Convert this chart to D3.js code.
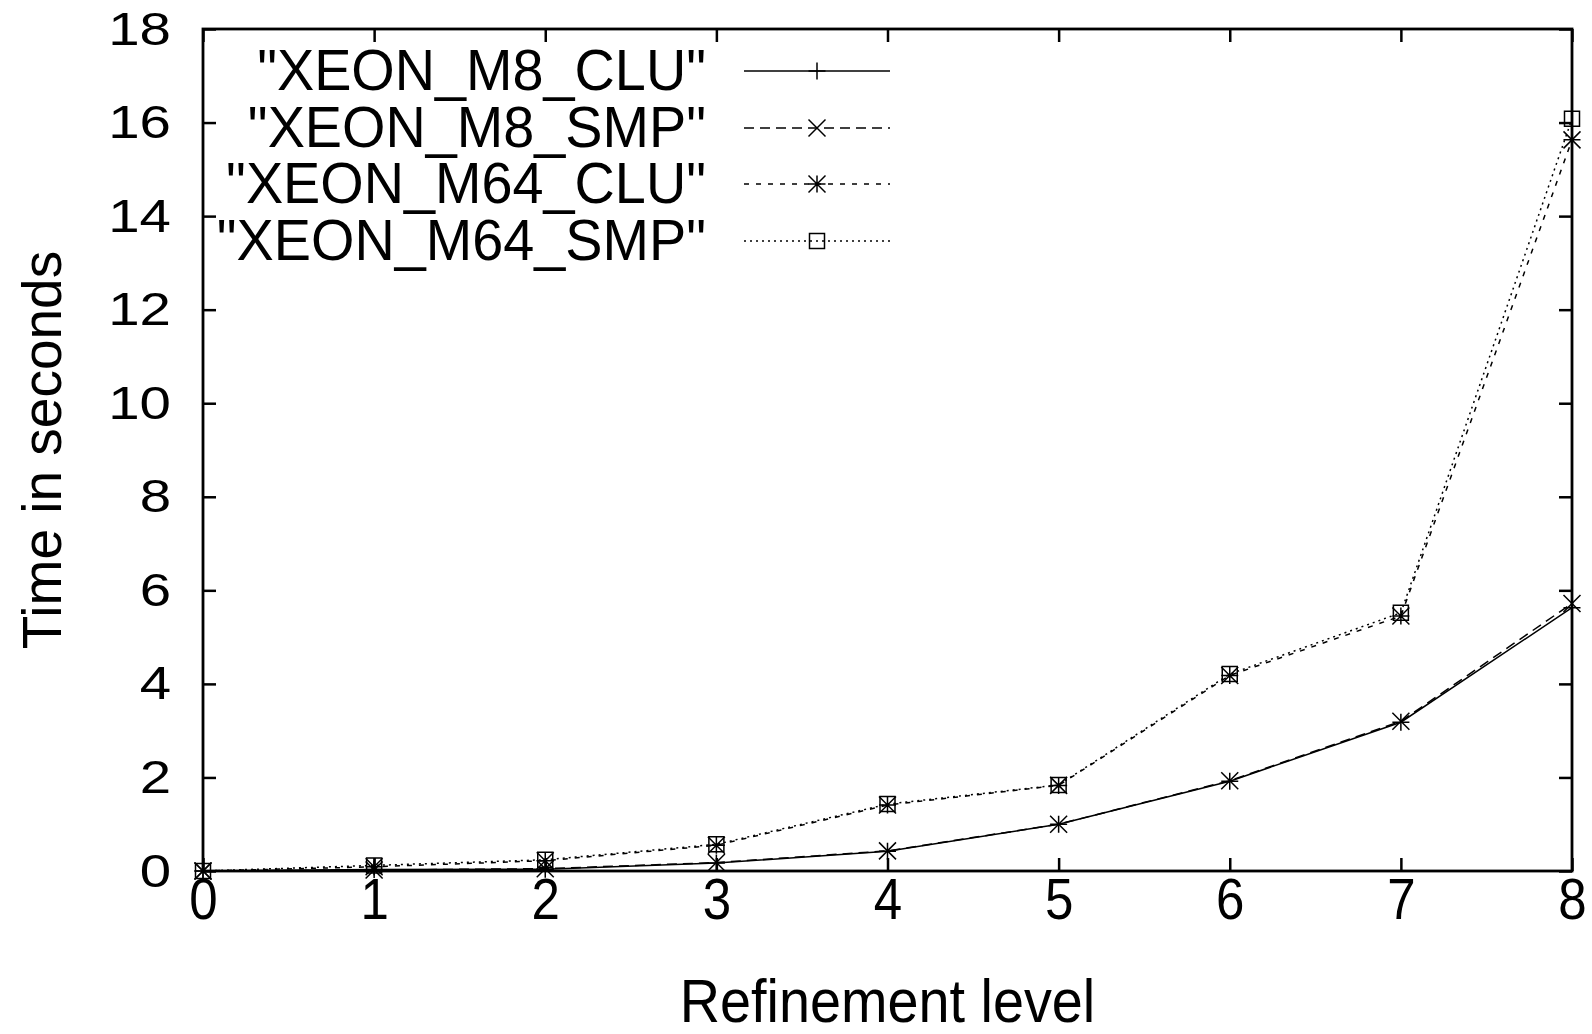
<!DOCTYPE html>
<html>
<head>
<meta charset="utf-8">
<script src="https://cdn.jsdelivr.net/npm/d3@7"></script>
<style>
  body { margin: 0; background: #fff; }
  svg { display: block; }
  text { font-family: "Liberation Sans", Arial, sans-serif; fill: #000; }
</style>
</head>
<body>
<script>
// refinement levels on the x axis
var levels = [0, 1, 2, 3, 4, 5, 6, 7, 8];

// time in seconds, one array per run
var xeonM8Clu  = [0, 0.03, 0.04, 0.17, 0.42, 1.00, 1.92, 3.18, 5.63];
var xeonM8Smp  = [0, 0.02, 0.05, 0.18, 0.43, 1.00, 1.93, 3.20, 5.72];
var xeonM64Clu = [0, 0.09, 0.22, 0.55, 1.41, 1.83, 4.18, 5.45, 15.63];
var xeonM64Smp = [0, 0.12, 0.24, 0.57, 1.43, 1.84, 4.21, 5.52, 16.08];

var seriesNames = ['"XEON_M8_CLU"', '"XEON_M8_SMP"', '"XEON_M64_CLU"', '"XEON_M64_SMP"'];

var xTicks = [0, 1, 2, 3, 4, 5, 6, 7, 8];
var yTicks = [0, 2, 4, 6, 8, 10, 12, 14, 16, 18];

var xTitle = "Refinement level";
var yTitle = "Time in seconds";

var width = 1592, height = 1034;
var margin = {left: 203, top: 29, right: 20, bottom: 163};
var iw = width - margin.left - margin.right;
var ih = height - margin.top - margin.bottom;

// how each series is drawn (gnuplot style: lt 1..4, pt 1..4)
var styles = [
  {dash: null,    mark: "plus"},
  {dash: "10,6",  mark: "cross"},
  {dash: "5,7",   mark: "star"},
  {dash: "2,4",   mark: "square"}
];

var series = [xeonM8Clu, xeonM8Smp, xeonM64Clu, xeonM64Smp];

var x = d3.scaleLinear().domain([0, 8]).range([0, iw]);
var y = d3.scaleLinear().domain([0, 18]).range([ih, 0]);

function markPath(type) {
  var s = 8.5;
  if (type == "plus") return "M" + (-s) + ",0H" + s + "M0," + (-s) + "V" + s;
  if (type == "cross") return "M" + (-s) + "," + (-s) + "L" + s + "," + s + "M" + (-s) + "," + s + "L" + s + "," + (-s);
  if (type == "star") return markPath("plus") + markPath("cross");
  var q = 7.5; // square
  return "M" + (-q) + "," + (-q) + "h" + (2 * q) + "v" + (2 * q) + "h" + (-2 * q) + "z";
}

var svg = d3.select("body").append("svg")
  .attr("width", width)
  .attr("height", height);

svg.append("rect").attr("width", width).attr("height", height).attr("fill", "#fff");

var chartGroup = svg.append("g").attr("transform", "translate(" + margin.left + "," + margin.top + ")");

// axes, ticks pointing inward like gnuplot
var xAxis = d3.axisBottom(x).tickValues(xTicks).tickSizeInner(-13).tickSizeOuter(0).tickPadding(7).tickFormat(d3.format("d"));
var xAxisTop = d3.axisTop(x).tickValues(xTicks).tickSizeInner(-13).tickSizeOuter(0).tickFormat("");
var yAxis = d3.axisLeft(y).tickValues(yTicks).tickSizeInner(-13).tickSizeOuter(0).tickPadding(32).tickFormat(d3.format("d"));
var yAxisRight = d3.axisRight(y).tickValues(yTicks).tickSizeInner(-13).tickSizeOuter(0).tickFormat("");

var gx = chartGroup.append("g").attr("class", "axis x").attr("transform", "translate(0," + ih + ")").call(xAxis);
gx.selectAll("text")
  .attr("font-size", 58)
  .attr("transform", "scale(0.88,1)");

chartGroup.append("g").attr("class", "axis x2").call(xAxisTop);

var gy = chartGroup.append("g").attr("class", "axis y").call(yAxis);
gy.selectAll("text")
  .attr("font-size", 47)
  .attr("x", -32 / 1.2)
  .attr("transform", "scale(1.2,1)");

chartGroup.append("g").attr("class", "axis y2").attr("transform", "translate(" + iw + ",0)").call(yAxisRight);

chartGroup.selectAll(".axis .domain").remove();
chartGroup.selectAll(".axis .tick line").attr("stroke", "#000").attr("stroke-width", 2.5);
chartGroup.selectAll(".axis text").attr("font-family", null);

// plot border
chartGroup.append("rect")
  .attr("width", iw).attr("height", ih)
  .attr("fill", "none").attr("stroke", "#000").attr("stroke-width", 2.8);

// data lines
var line = d3.line()
  .x(function(d, i) { return x(levels[i]); })
  .y(function(d) { return y(d); });

series.forEach(function(vals, k) {
  chartGroup.append("path")
    .attr("d", line(vals))
    .attr("fill", "none")
    .attr("stroke", "#000")
    .attr("stroke-width", 1.5)
    .attr("stroke-dasharray", styles[k].dash);

  chartGroup.selectAll(".pt" + k).data(vals).enter().append("path")
    .attr("class", "pt" + k)
    .attr("transform", function(d, i) { return "translate(" + x(levels[i]) + "," + y(d) + ")"; })
    .attr("d", markPath(styles[k].mark))
    .attr("fill", "none")
    .attr("stroke", "#000")
    .attr("stroke-width", 1.5);
});

// legend, top left inside the frame
var legend = svg.append("g");
var rowY = [71, 128, 184, 241];
seriesNames.forEach(function(name, k) {
  var row = legend.append("g").attr("transform", "translate(0," + rowY[k] + ")");
  row.append("text")
    .attr("transform", "translate(706,19) scale(0.93,0.97)")
    .attr("text-anchor", "end")
    .attr("font-size", 60)
    .text(name);
  row.append("line")
    .attr("x1", 744).attr("x2", 890)
    .attr("stroke", "#000").attr("stroke-width", 1.5)
    .attr("stroke-dasharray", styles[k].dash);
  row.append("path")
    .attr("transform", "translate(817,0)")
    .attr("d", markPath(styles[k].mark))
    .attr("fill", "none").attr("stroke", "#000").attr("stroke-width", 1.5);
});

// axis titles
svg.append("text")
  .attr("transform", "translate(" + (margin.left + iw / 2) + ",1022) scale(0.9,1)")
  .attr("text-anchor", "middle")
  .attr("font-size", 62)
  .text(xTitle);

svg.append("text")
  .attr("transform", "translate(61," + (margin.top + ih / 2) + ") rotate(-90)")
  .attr("text-anchor", "middle")
  .attr("font-size", 55)
  .text(yTitle);
</script>
</body>
</html>
